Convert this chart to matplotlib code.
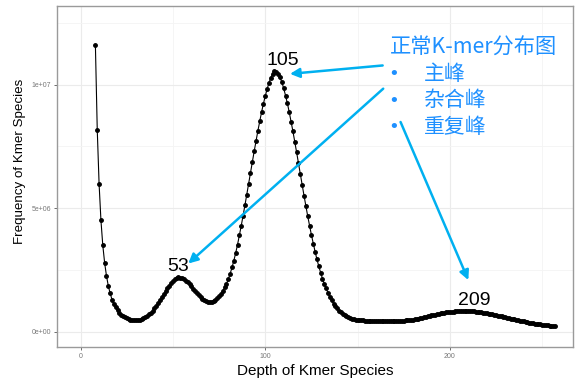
import matplotlib
matplotlib.use("Agg")
import matplotlib.pyplot as plt

plt.rcParams["font.family"] = ["Liberation Sans", "DejaVu Sans"]

# k-mer depth vs. frequency (frequency in millions)
depth = list(range(8, 258))
freq_m = [
    11.6, 8.18, 5.98, 4.51, 3.5, 2.79, 2.26, 1.85, 1.55, 1.3,
    1.12, 0.98, 0.86, 0.77, 0.69, 0.63, 0.58, 0.54, 0.51, 0.49,
    0.475, 0.465, 0.46,
    0.47, 0.49, 0.52, 0.55, 0.59, 0.64, 0.70, 0.77, 0.85, 0.94,
    1.04, 1.15, 1.27, 1.39, 1.51, 1.63, 1.75, 1.86, 1.96, 2.05,
    2.12, 2.17,
    2.195, 2.185, 2.17, 2.13, 2.07, 2.00, 1.92, 1.83, 1.74, 1.65,
    1.56, 1.48, 1.41, 1.34, 1.29, 1.25, 1.22, 1.21, 1.22, 1.25,
    1.29, 1.36,
    1.44, 1.54, 1.65, 1.79, 1.94, 2.13, 2.35, 2.60, 2.88, 3.19,
    3.53, 3.90, 4.29, 4.70, 5.12, 5.55, 5.99, 6.43, 6.87, 7.30,
    7.72, 8.13, 8.52, 8.89, 9.23, 9.54, 9.82, 10.07, 10.28, 10.44,
    10.545, 10.53, 10.45, 10.30, 10.10, 9.85, 9.56, 9.24, 8.89, 8.51,
    8.11, 7.69, 7.26, 6.82, 6.38, 5.94, 5.51, 5.09, 4.68, 4.29,
    3.92, 3.57, 3.24, 2.93, 2.65, 2.39, 2.15, 1.94, 1.75, 1.57,
    1.41, 1.27, 1.14, 1.03, 0.94, 0.85,
    0.78, 0.72, 0.67, 0.63, 0.59, 0.56, 0.53, 0.51, 0.49, 0.48,
    0.47, 0.46, 0.455, 0.45, 0.445, 0.44, 0.44, 0.44, 0.438, 0.437,
    0.436, 0.436, 0.436, 0.437, 0.438, 0.438, 0.439, 0.44, 0.44, 0.44,
    0.44, 0.44, 0.44, 0.445, 0.45, 0.455, 0.46, 0.47, 0.48, 0.49,
    0.50, 0.52, 0.53, 0.55, 0.57, 0.58, 0.60, 0.62, 0.64, 0.66,
    0.68, 0.69, 0.71, 0.72, 0.74, 0.75, 0.76, 0.78, 0.79, 0.80,
    0.81, 0.81, 0.82, 0.82, 0.83, 0.83, 0.833, 0.836, 0.84, 0.836,
    0.83, 0.83, 0.82, 0.81, 0.80, 0.79, 0.78, 0.77, 0.76, 0.75,
    0.73, 0.72, 0.70, 0.69, 0.67, 0.65, 0.64, 0.62, 0.60, 0.58,
    0.57, 0.55, 0.53, 0.51, 0.50, 0.48, 0.46, 0.45, 0.43, 0.42,
    0.40, 0.39, 0.37, 0.36, 0.35, 0.33, 0.32, 0.31, 0.30, 0.29,
    0.28, 0.27, 0.26, 0.25, 0.24, 0.23, 0.22,
]
freq = [v * 1e6 for v in freq_m]

peaks = [53, 105, 209]
peak_dx = [0, 4.5, 4]  # label nudges, in depth units

xticks = [0, 100, 200]
yticks = [0, 5e6, 1e7]
ytick_labels = ["0e+00", "5e+06", "1e+07"]

legend_title = "正常K-mer分布图"
legend_items = ["主峰", "杂合峰", "重复峰"]

W, H = 587, 380
fig = plt.figure(figsize=(W / 100, H / 100), dpi=100)
ax = fig.add_axes([57 / W, 1 - 347 / H, (573 - 57) / W, (347 - 5.7) / H])

ax.plot(depth, freq, color="black", lw=0.8, marker="o", ms=2.5, mec="black", mfc="black", zorder=3)

ax.set_xlim(-12.8, 266.7)
ax.set_ylim(-0.62e6, 13.2e6)
ax.set_xticks(xticks)
ax.set_xticks([50, 150, 250], minor=True)
ax.set_yticks(yticks)
ax.set_yticklabels(ytick_labels)
ax.set_yticks([2.5e6, 7.5e6, 1.25e7], minor=True)
ax.tick_params(which="major", length=2.5, width=0.6, color="#555555", labelsize=5, labelcolor="#777777", pad=2)
ax.tick_params(which="minor", length=0)
ax.grid(which="major", color="#ebebeb", lw=0.8)
ax.grid(which="minor", color="#f4f4f4", lw=0.6)
ax.set_axisbelow(True)
for s in ax.spines.values():
    s.set_color("#9a9a9a")
    s.set_linewidth(1.0)

ax.set_xlabel("Depth of Kmer Species", fontsize=11, labelpad=3)
ax.set_ylabel("Frequency of Kmer Species", fontsize=9.6)
ax.yaxis.set_label_coords(-0.06, 0.545)

# peak labels
for p, dx in zip(peaks, peak_dx):
    v = freq[depth.index(p)]
    ax.annotate(str(p), xy=(p + dx, v), xytext=(0, 1.5), textcoords="offset points",
                ha="center", va="bottom", fontsize=14)

# legend-like text block
cjk = ["Noto Sans CJK SC", "DejaVu Sans"]
text_c = "#1E90FF"
arrow_c = "#00B0F0"
fig.text(390 / W, 1 - 48 / H, legend_title, family=cjk, fontsize=15.3, color=text_c, va="center", ha="left")
for i, item in enumerate(legend_items):
    y = 1 - (74 + i * 26.5) / H
    fig.text(394 / W, y, "•", family="DejaVu Sans", fontsize=13, color=text_c, va="center", ha="center")
    fig.text(424 / W, y, item, family=cjk, fontsize=15, color=text_c, va="center", ha="left")

# arrows from the text block to the peaks
arrows = [((163.6, 10.78e6), (113.4, 10.44e6)),
          ((163.9, 9.84e6), (58.3, 2.76e6)),
          ((173.3, 8.49e6), (210.0, 2.09e6))]
for start, tip in arrows:
    ax.annotate("", xy=tip, xytext=start,
                arrowprops=dict(arrowstyle="-|>", color=arrow_c, lw=1.8, mutation_scale=14,
                                shrinkA=0, shrinkB=0), annotation_clip=False)

fig.savefig("out.png", dpi=100)
